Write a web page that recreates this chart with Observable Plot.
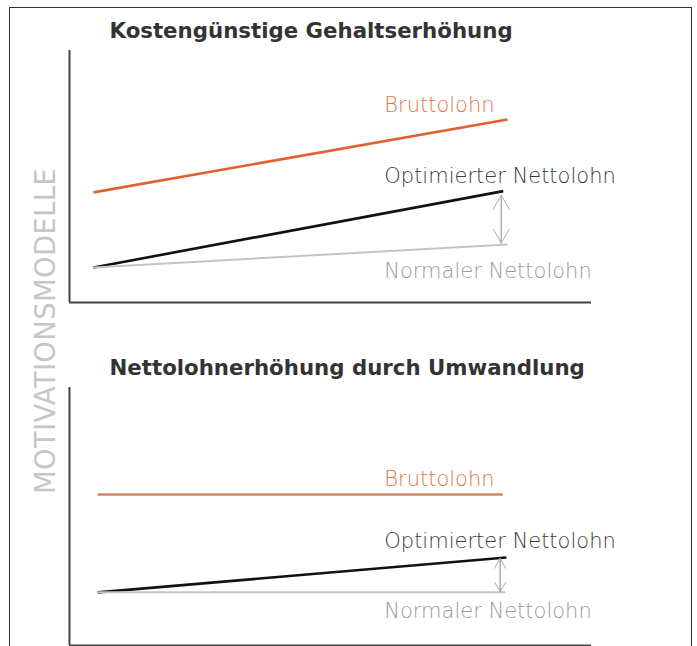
<!DOCTYPE html>
<html>
<head>
<meta charset="utf-8">
<script src="https://cdn.jsdelivr.net/npm/d3@7"></script>
<script src="https://cdn.jsdelivr.net/npm/@observablehq/plot@0.6"></script>
<style>
  html, body { margin: 0; padding: 0; background: #fff; overflow: hidden; }
  #wrap { position: relative; width: 697px; height: 646px; overflow: hidden; background: #fff; }
  #frame { position: absolute; left: 9px; top: 7px; width: 683px; height: 700px; border: 1.5px solid #333; box-sizing: border-box; }
  #side { position: absolute; left: 45px; top: 331px; transform: translate(-50%, -50%) rotate(-90deg);
          white-space: nowrap; font-family: "DejaVu Sans", sans-serif; font-size: 27.5px; color: #c6c6c6; letter-spacing: 0.3px; z-index: 5; }
  .panel { position: absolute; left: 0; }
</style>
</head>
<body>
<div id="wrap">
  <div id="frame"></div>
  <div id="side">MOTIVATIONSMODELLE</div>
  <div id="top" class="panel" style="top:0px"></div>
  <div id="bottom" class="panel" style="top:320px"></div>
</div>
<script>
// ---- Data (x: time, y: salary level, arbitrary units 0..10) ----
const seriesNames = ["Bruttolohn", "Optimierter Nettolohn", "Normaler Nettolohn"];
const titles = ["Kostengünstige Gehaltserhöhung", "Nettolohnerhöhung durch Umwandlung"];
const sideLabel = "MOTIVATIONSMODELLE";

// Panel 1: Kostengünstige Gehaltserhöhung
const p1Start = [0.46, 0.46, 0.46];     // x start per series
const p1End   = [8.39, 8.31, 8.39];     // x end per series
const p1StartVal = [4.37, 1.39, 1.39];  // y at start
const p1EndVal   = [7.26, 4.42, 2.30];  // y at end
const p1Arrow = {x: 8.27, ends: [4.25, 2.36]};
const p1LabelX = 6.03;
const p1LabelY = [7.54, 4.76, 0.99];

// Panel 2: Nettolohnerhöhung durch Umwandlung
const p2Start = [0.54, 0.54, 0.54];
const p2End   = [8.30, 8.37, 8.35];
const p2StartVal = [5.85, 2.06, 2.06];
const p2EndVal   = [5.85, 3.41, 2.06];
const p2Arrow = {x: 8.25, ends: [3.37, 2.08]};
const p2LabelX = 6.03;
const p2LabelY = [6.20, 3.76, 1.05];

const lineColors = [["#e2602e", "#111111", "#c4c4c4"], ["#d9855c", "#111111", "#c4c4c4"]];
const labelColors = [["#e0784a", "#3a3a3a", "#9a9a9a"], ["#d9784a", "#3a3a3a", "#9a9a9a"]];
const lineWidths = [2.6, 2.6, 2];

function buildPanel(idx, starts, ends, sv, ev, arrow, lx, ly, height, mTop, mBottom) {
  document.getElementById("side").textContent = sideLabel;
  const segs = seriesNames.map((name, i) => ({name, x1: starts[i], y1: sv[i], x2: ends[i], y2: ev[i], i}));
  const labels = seriesNames.map((name, i) => ({name, x: lx, y: ly[i], i}));
  // double-headed arrow: two full-length arrows in opposite directions
  const arrows = [
    {x: arrow.x, y1: arrow.ends[1], y2: arrow.ends[0]},
    {x: arrow.x, y1: arrow.ends[0], y2: arrow.ends[1]}
  ];
  return Plot.plot({
    width: 697,
    height,
    marginLeft: 69,
    marginRight: 106,
    marginTop: mTop,
    marginBottom: mBottom,
    style: {background: "transparent", overflow: "visible"},
    x: {domain: [0, 10], axis: null},
    y: {domain: [0, 10], axis: null},
    marks: [
      Plot.ruleX([0], {stroke: "#444", strokeWidth: 2}),
      Plot.ruleY([0], {stroke: "#444", strokeWidth: 2}),
      ...segs.map(s => Plot.link([s], {x1: "x1", y1: "y1", x2: "x2", y2: "y2",
        stroke: lineColors[idx][s.i], strokeWidth: lineWidths[s.i], strokeLinecap: "butt"})),
      Plot.arrow(arrows, {x1: "x", y1: "y1", x2: "x", y2: "y2", stroke: "#aaaaaa",
        strokeWidth: 1, headLength: 24, headAngle: 60, bend: 0}),
      ...labels.map(l => Plot.text([l], {x: "x", y: "y", text: "name", textAnchor: "start",
        lineAnchor: "bottom", fill: labelColors[idx][l.i], fontSize: 21,
        fontFamily: "'DejaVu Sans', sans-serif", fontWeight: 200})),
      Plot.text([titles[idx]], {frameAnchor: "top-left", dx: 40, dy: -13, lineAnchor: "bottom",
        textAnchor: "start", fontSize: 21.3, fontWeight: "bold", fill: "#333",
        fontFamily: "'DejaVu Sans', sans-serif"})
    ]
  });
}

document.getElementById("top").append(
  buildPanel(0, p1Start, p1End, p1StartVal, p1EndVal, p1Arrow, p1LabelX, p1LabelY, 320, 50, 18));
document.getElementById("bottom").append(
  buildPanel(1, p2Start, p2End, p2StartVal, p2EndVal, p2Arrow, p2LabelX, p2LabelY, 326, 67, 1));
</script>
</body>
</html>
